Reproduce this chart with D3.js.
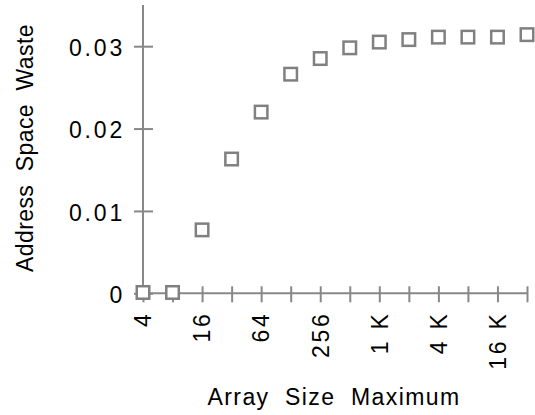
<!DOCTYPE html>
<html>
<head>
<meta charset="utf-8">
<style>
    body { margin: 0; background: #fff; }
    svg { display: block; font-family: 'Liberation Sans', Arial, sans-serif; }
    .axis path, .axis line { stroke: #888; stroke-width: 2; }
    .tick-label { font-size: 23px; letter-spacing: 2.8px; fill: #000; }
    .title { font-size: 23px; fill: #000; }
</style>
</head>
<body>
<svg width="535" height="415"></svg>

<script src="https://d3js.org/d3.v7.min.js"></script>
<script>
    // array size maximum (powers of two) and the address space waste at each
    let sizes = [4, 8, 16, 32, 64, 128, 256, 512, 1024, 2048, 4096, 8192, 16384, 32768]
    let waste = [0.0001, 0.0001, 0.0077, 0.0163, 0.0220, 0.0266, 0.0285, 0.0298, 0.0305, 0.0308, 0.0311, 0.0311, 0.0311, 0.0314]

    let xLabelled = [4, 16, 64, 256, 1024, 4096, 16384]
    let yTicks = [0, 0.01, 0.02, 0.03]
    let yTickText = ["0", "0.01", "0.02", "0.03"]

    let svg = d3.select("svg")

    let x = d3.scaleLog().base(2)
        .domain([4, 32768])
        .range([143, 527])

    let y = d3.scaleLinear()
        .domain([0, 0.035])
        .range([293.3, 5])

    function fmt(v) {
        return v >= 1024 ? (v / 1024) + " K" : String(v)
    }

    // x axis
    let xAxis = svg.append("g")
        .attr("class", "axis")
        .attr("transform", `translate(0,${y(0)})`)
        .call(d3.axisBottom(x).tickValues(sizes).tickSize(0).tickFormat(""))
    xAxis.select(".domain").attr("d", `M${x(4)},0H${x(32768)}`)
    xAxis.selectAll(".tick line").attr("y1", -7).attr("y2", 9)

    // y axis
    let yAxis = svg.append("g")
        .attr("class", "axis")
        .attr("transform", `translate(${x(4)},0)`)
        .call(d3.axisLeft(y).tickValues(yTicks).tickSize(0).tickFormat(""))
    yAxis.select(".domain").attr("d", `M0,${y(0.035)}V${y(0)}`)
    yAxis.selectAll(".tick line").attr("x1", -9).attr("x2", 10)

    // y tick labels
    svg.selectAll(".ylab")
        .data(yTicks)
        .join("text")
        .attr("class", "tick-label")
        .attr("x", x(4) - 18)
        .attr("y", d => y(d))
        .attr("dy", "0.42em")
        .attr("text-anchor", "end")
        .text((d, i) => yTickText[i])

    // x tick labels, rotated
    svg.selectAll(".xlab")
        .data(xLabelled)
        .join("text")
        .attr("class", "tick-label")
        .attr("text-anchor", "end")
        .attr("transform", d => `translate(${x(d)},${y(0) + 18}) rotate(-90)`)
        .attr("dy", "0.36em")
        .text(d => fmt(d))

    // axis titles
    svg.append("text")
        .attr("class", "title")
        .attr("x", 334)
        .attr("y", 405)
        .attr("text-anchor", "middle")
        .style("letter-spacing", "1.4px")
        .text("Array\u00a0\u00a0Size\u00a0\u00a0Maximum")

    svg.append("text")
        .attr("class", "title")
        .attr("text-anchor", "middle")
        .attr("transform", `translate(33,148) rotate(-90)`)
        .style("letter-spacing", "0.4px")
        .text("Address\u00a0\u00a0Space\u00a0\u00a0Waste")

    // markers
    let s = 12.5
    svg.selectAll(".pt")
        .data(sizes)
        .join("rect")
        .attr("x", d => x(d) - s / 2)
        .attr("y", (d, i) => y(waste[i]) - s / 2)
        .attr("width", s)
        .attr("height", s)
        .style("fill", "white")
        .style("stroke", "#808080")
        .style("stroke-width", 2.5)
</script>
</body>
</html>
